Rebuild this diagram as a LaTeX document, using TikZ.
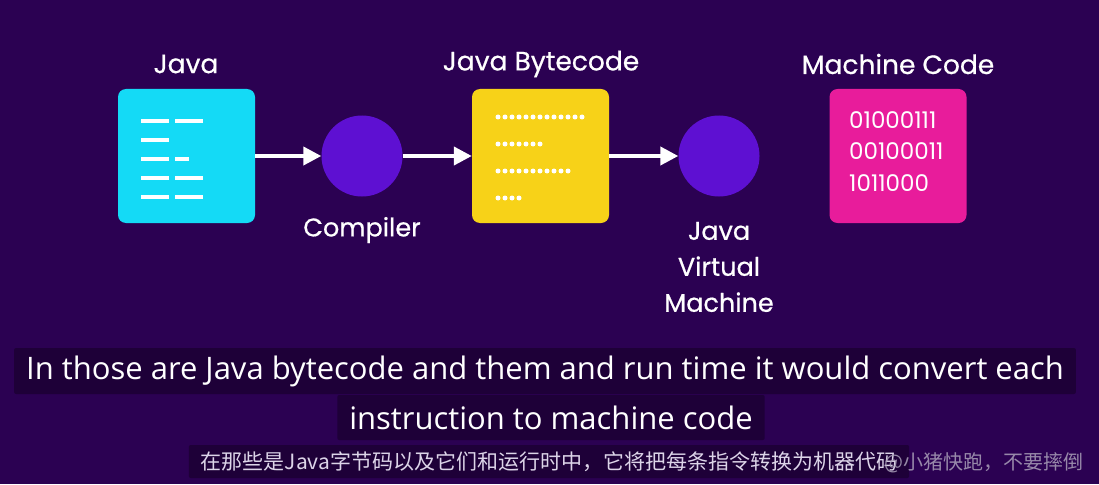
\documentclass[tikz,border=0pt]{standalone}
\usepackage{fontspec}
\usepackage{xcolor}
\usepackage{tikz}
\usetikzlibrary{arrows.meta,positioning}
\newfontfamily\popfont{Poppins}
\newfontfamily\popmid[FakeBold=0.6]{Poppins}
\newfontfamily\subfont{Open Sans}
\newfontfamily\cjkfont{Noto Sans CJK SC}
\definecolor{bgpurple}{RGB}{43,1,82}
\definecolor{subbg}{RGB}{30,0,56}
\definecolor{javacyan}{RGB}{20,218,246}
\definecolor{bcyellow}{RGB}{247,210,24}
\definecolor{mcpink}{RGB}{232,28,155}
\definecolor{vmviolet}{RGB}{94,16,210}
\definecolor{cjkgray}{RGB}{220,212,232}
\definecolor{wmgray}{RGB}{170,160,185}

\begin{document}
\begin{tikzpicture}[x=1pt, y=-1pt,
  every node/.style={text=white},
  codebox/.style={rounded corners=8pt, minimum width=137pt, minimum height=134pt, inner sep=0pt},
  engine/.style={circle, fill=vmviolet, minimum size=81pt, inner sep=0pt},
  title/.style={font=\popmid\fontsize{26.5}{30}\selectfont},
  caption/.style={font=\popmid\fontsize{25.5}{36}\selectfont, align=center},
  flow/.style={white, line width=4pt, -{Triangle[length=18pt,width=18pt]}},
  subbox/.style={fill=subbg, rounded corners=2pt, inner xsep=12pt, font=\subfont\fontsize{31}{34}\selectfont}]
  % background
  \fill[bgpurple] (0,0) rectangle (1099,484);
  \useasboundingbox (0,0) rectangle (1099,484);

  % Java source
  \node[title] (javat) at (186,64) {Java};
  \node[codebox, fill=javacyan] (java) at (186.5,156) {};
  \foreach \y/\a/\b in {121/169/203, 140/169/169, 159/169/189, 178/169/203, 197/169/203} {
    \draw[white, line width=4pt] (141,\y) -- (\a,\y);
    \ifnum\b>\a \draw[white, line width=4pt] (175,\y) -- (\b,\y); \fi
  }

  % compiler
  \node[engine] (comp) at (362,156) {};
  \node[caption] (compt) at (362,230) {Compiler};

  % bytecode
  \node[title] (bct) at (541,64) {Java Bytecode};
  \node[codebox, fill=bcyellow] (bc) at (540.5,156) {};
  \foreach \y/\n in {117/13, 144/7, 171/11, 198/4} {
    \foreach \i in {1,...,\n}
      \fill[white] ({491+7*\i},\y) circle (2.5pt);
  }

  % JVM
  \node[engine] (jvm) at (719,156) {};
  \node[caption] (jvmt) at (719,267) {Java\\Virtual\\Machine};

  % machine code
  \node[title] (mct) at (898,64) {Machine Code};
  \node[codebox, fill=mcpink] (mc) at (898,156) {};
  \node[anchor=north west, align=left, inner sep=0pt,
        font=\popfont\fontsize{23}{31.5}\selectfont] (bits) at (849,111)
    {01000111\\00100011\\1011000};

  \draw[flow] (java) -- (comp);
  \draw[flow] (comp) -- (bc);
  \draw[flow] (bc) -- (jvm);

  % subtitles
  \node[subbox, minimum height=46pt] (sub1) at (545,371)
    {In those are Java bytecode and them and run time it would convert each};
  \node[subbox, minimum height=45pt] (sub2) at (551,417.5)
    {instruction to machine code};
  \node[fill=subbg, rounded corners=2pt, inner xsep=12pt, minimum height=33pt,
        text=cjkgray, font=\cjkfont\fontsize{21}{24}\selectfont] (sub3) at (549,461.5)
    {在那些是Java字节码以及它们和运行时中，它将把每条指令转换为机器代码};
  \node[anchor=east, text=wmgray, opacity=0.85, inner sep=0pt,
        font=\cjkfont\fontsize{20}{22}\selectfont] (mark) at (1084,463)
    {@小猪快跑，不要摔倒};
\end{tikzpicture}
\end{document}
